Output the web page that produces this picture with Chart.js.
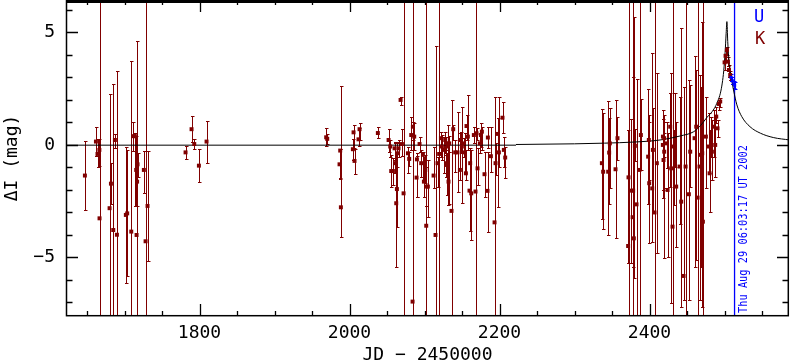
<!DOCTYPE html>
<html><head><meta charset="utf-8">
<script src="https://cdn.jsdelivr.net/npm/chart.js@4.4.0/dist/chart.umd.min.js"></script>
<style>html,body{margin:0;padding:0;background:#fff;}canvas{display:block;}</style>
</head><body>
<canvas id="c" width="790" height="362"></canvas>
<script>
// ---------------- DATA ----------------
const FULL = 20; // error bar running off the panel
const kJD = [1647.2,1661.9,1664.0,1666.5,1666.7,1680.1,1681.9,1685.0,1687.2,1689.9,1701.8,1703.6,1709.0,1711.6,1713.9,1715.6,1716.1,1717.4,1716.8,1725.8,1728.1,1730.7,1781.4,1789.4,1793.0,1799.2,1809.4,
 1968.9,1970.3,1987.6,1986.7,1988.5,2004.5,2005.4,2006.7,2012.0,2013.4,2037.8,
 2052.1,2054.3,2055.6,2057.9,2060.1,2061.0,2062.3,2063.2,2063.6,2065.4,2068.1,2069.9,2072.1,2077.9,2079.6,2082.3,2084.1,2084.5,2086.3,2089.9,2089.4,2093.4,2095.6,2097.9,2099.2,2101.0,2102.3,2102.0,2104.5,2112.1,2114.7,2117.4,2119.5,2121.9,2123.2,2125.4,2127.6,2129.0,2131.2,2133.0,
 2128.9,2129.8,2132.0,2136.0,2138.3,2140.9,2144.0,2147.2,2148.5,2149.8,2152.0,2153.4,2155.2,2156.0,2157.8,2160.0,2160.9,2162.3,2165.8,2168.0,2169.4,2170.7,2173.8,2175.2,2176.5,2180.0,2184.0,2184.5,2188.5,2193.4,2194.7,2197.8,2199.2,2204.0,2205.8,2207.6,
 2336.5,2338.2,2344.9,2346.2,2347.1,2354.7,2357.3,2372.0,2371.5,2375.1,2378.2,2379.1,2377.5,2380.5,2382.7,2386.7,2388.5,2398.2,2399.1,2399.6,2403.6,2404.5,2406.7,2409.8,2417.8,2418.7,2419.6,
 2417.9,2419.6,2423.2,2424.1,2427.6,2429.0,2430.7,2432.1,2434.0,2435.6,2440.1,2442.3,2445.4,2448.1,2452.5,2454.3,2460.1,2462.3,2464.1,2466.7,2468.5,2470.3,2471.2,2475.2,2478.7,2480.1,2481.9,2483.2,2485.4,2487.6,2489.0,2490.7,2492.5,2494.3,2500.1,2501.4,2503.2,2504.5,2505.9,2507.6];
const kMag = [-1.36,0.15,-0.40,-0.22,-3.26,-2.81,-1.72,-3.78,0.22,-3.99,-3.11,-3.04,-3.85,0.39,0.39,-1.11,-4.00,-0.86,-1.63,-1.11,-4.28,-2.71,-0.33,0.70,0.04,-0.92,0.15,
 0.34,0.27,-0.25,-0.86,-2.77,-0.19,0.56,-0.71,0.25,0.70,0.53,
 0.22,-0.07,-1.16,-1.16,-0.15,-0.81,-2.59,-1.96,-0.37,-0.15,2.00,0.04,-2.15,-0.37,-0.62,0.44,-6.96,0.81,0.37,-0.64,-1.45,0.04,-0.81,-0.44,-1.63,-1.11,-3.59,-1.85,-1.85,-1.36,-4.00,-0.81,-0.40,0.30,-0.07,-0.22,0.22,-0.81,-0.07,0.07,
 0.07,-0.89,-1.63,-2.93,0.70,-0.33,-0.33,-1.11,0.22,-0.07,0.07,-0.33,-1.26,0.84,0.37,-2.03,-0.81,-2.15,0.44,-2.07,0.52,-1.04,0.07,0.44,0.59,-1.30,-2.04,0.33,-0.50,-3.44,-0.81,0.49,-0.33,1.21,-0.22,-0.56,
 -0.81,-1.19,-1.19,-0.34,0.07,-1.08,0.30,-1.44,-4.49,-2.03,-2.03,-4.15,-3.21,-0.04,-2.64,-1.11,0.44,-0.52,0.22,-1.70,-1.93,-0.22,-3.00,-0.81,0.00,-0.67,0.30,
 0.37,-0.30,0.07,-2.00,0.81,-1.04,-3.63,-0.07,-0.22,-1.85,-0.96,-2.52,-5.82,-0.96,-2.19,-0.30,0.30,0.81,-2.34,-0.96,-0.44,-0.37,-3.41,0.37,-0.07,-1.26,0.52,-0.30,0.81,0.00,1.26,0.74,1.82,1.93,3.67,3.96,4.22,3.70,3.33,3.11];
const kHi = [0.16,0.79,0.25,0.25,FULL,2.25,-0.81,2.70,0.47,3.29,-0.10,-0.24,3.73,1.01,0.52,0.40,4.61,-0.37,-0.37,-0.25,FULL,-0.25,-0.03,1.27,0.25,-0.19,1.05,
 0.74,0.50,-0.19,-0.19,2.62,0.28,0.87,-0.19,0.74,0.96,0.79,
 0.70,0.22,-0.44,-0.60,0.15,0.07,-0.37,0.07,0.15,0.22,2.15,0.70,FULL,-0.07,-0.30,1.26,FULL,1.04,0.96,-0.37,-0.50,0.37,-0.22,-0.30,-0.52,-0.44,FULL,-0.96,-0.67,-0.07,4.40,-0.52,FULL,0.59,0.44,0.37,0.59,-0.22,0.89,0.40,
 0.37,-0.37,-0.30,2.00,0.89,0.22,1.48,0.52,0.59,1.70,0.30,0.52,-0.22,1.33,2.22,-0.22,-0.15,-0.22,0.81,FULL,0.74,-0.15,0.52,0.96,0.81,-0.30,-0.30,0.81,0.81,2.15,0.07,1.19,2.15,1.89,0.37,-0.07,
 1.58,1.41,1.96,1.19,1.63,2.00,1.26,FULL,0.67,1.14,FULL,5.70,3.04,0.70,2.92,FULL,2.03,2.48,1.33,1.00,4.07,1.63,FULL,3.19,1.14,0.52,1.04,
 1.56,1.33,1.04,0.52,2.30,3.19,FULL,0.67,2.30,1.00,2.15,5.19,2.59,FULL,2.89,2.67,3.93,3.33,FULL,3.11,2.59,5.48,FULL,2.15,1.41,0.67,1.26,1.11,1.56,1.33,1.70,1.11,2.00,2.07,4.00,4.22,4.37,3.90,3.56,3.30];
const kLo = [-2.90,-0.49,-0.96,-0.95,-FULL,-FULL,-2.64,-FULL,-0.15,-FULL,-6.12,-5.84,-FULL,-0.25,-2.71,-2.70,-FULL,-1.41,-2.71,-2.15,-FULL,-5.17,-0.64,0.12,-0.19,-1.66,-0.81,
 -0.04,0.05,-1.48,-1.52,-4.10,-0.67,-0.15,-1.30,-0.04,0.22,0.30,
 -0.30,-0.52,-1.85,-1.80,-0.67,-1.26,-5.41,-3.63,-0.96,-0.52,1.78,-0.49,-FULL,-1.26,-0.93,-0.22,-FULL,0.22,-0.22,-2.30,-2.30,-0.30,-1.41,-1.56,-2.30,-1.70,-FULL,-2.70,-3.19,-1.93,-FULL,-1.85,-FULL,-0.52,-0.67,-1.26,-0.37,-1.41,-2.67,-0.30,
 -0.44,-2.22,-2.63,-FULL,0.22,-1.19,-2.07,-1.56,-0.37,-2.59,-0.52,-1.26,-1.56,0.22,-0.22,-3.81,-2.07,-4.22,0.07,-FULL,0.22,-1.78,-0.37,-0.07,-0.22,-2.30,-3.88,-0.15,-1.19,-FULL,-1.33,-2.74,-0.96,0.52,-0.96,-1.48,
 -3.30,-3.74,-3.99,-2.62,-1.93,-4.15,-0.67,-FULL,-5.26,-5.26,-FULL,-5.93,-5.41,-0.70,-FULL,-FULL,-1.11,-2.62,-1.56,-4.37,-4.30,-3.04,-FULL,-4.81,-2.00,-1.93,-0.52,
 -2.37,-5.04,-1.04,-4.96,-1.85,-7.04,-FULL,-2.67,-1.00,-4.52,-3.50,-7.18,-6.89,-FULL,-6.89,-1.85,-5.41,-5.11,-FULL,-6.89,-5.41,-7.18,-FULL,-1.93,-1.26,-2.96,-0.52,-1.56,-0.52,-1.41,0.96,0.37,1.56,1.70,3.33,3.70,4.00,3.50,3.04,2.90];

const uJD  = [2508.8, 2510.5, 2512.5, 2513.5];
const uMag = [3.00, 2.85, 2.72, 2.65];
const uHi  = [3.15, 3.00, 2.85, 2.78];
const uLo  = [2.85, 2.70, 2.55, 2.50];

const baseJD  = [1622, 2222];
const baseMag = [-0.01, -0.01];
const modelJD  = [2222,2300,2340,2380,2414,2441,2459,2468,2476,2486,2491,2494.5,2497,2499,2500.8,2502.2,2503.2,2504.3,2505.6,2507.6,2510,2512,2516.5,2523,2534,2548,2565,2587];
const modelMag = [0.02,0.05,0.08,0.13,0.22,0.40,0.59,0.86,1.20,1.60,1.95,2.30,2.75,3.30,4.10,4.96,5.48,4.60,3.90,3.33,2.80,2.44,1.78,1.26,0.81,0.52,0.33,0.22];

const eventJD = [2513.4];
const eventLabel = ['Thu Aug 29 06:03:17 UT 2002'];
const seriesNames = ['U', 'K'];
const xTickLabels = [1800, 2000, 2200, 2400];
const yTickLabels = [-5, 0, 5];
const xTitle = 'JD \u2212 2450000';
const yTitle = '\u0394I (mag)';

// ---------------- STYLE ----------------
const RED = '#800000', BLUE = '#0000ff';
const FONT = 'DejaVu Sans Mono';
Chart.defaults.font.family = FONT;

function pts(xs, ys){ return xs.map((v,i)=>({x:v, y:ys[i]})); }

const overlay = {
  id: 'overlay',
  beforeDatasetsDraw(chart){
    const {ctx, chartArea:a, scales:{x, y}} = chart;
    ctx.save();
    ctx.beginPath(); ctx.rect(a.left, a.top, a.right-a.left, a.bottom-a.top); ctx.clip();
    const bars = (xs, his, los, col) => {
      ctx.strokeStyle = col; ctx.lineWidth = 1;
      ctx.beginPath();
      xs.forEach((v,i)=>{
        const px = Math.round(x.getPixelForValue(v)) + 0.5;
        const y1 = Math.round(y.getPixelForValue(his[i])) + 0.5;
        const y2 = Math.round(y.getPixelForValue(los[i])) + 0.5;
        ctx.moveTo(px, y1); ctx.lineTo(px, y2);
        ctx.moveTo(px-1.5, y1); ctx.lineTo(px+2, y1);
        ctx.moveTo(px-1.5, y2); ctx.lineTo(px+2, y2);
      });
      ctx.stroke();
    };
    bars(kJD, kHi, kLo, RED);
    bars(uJD, uHi, uLo, BLUE);
    // event line
    ctx.strokeStyle = BLUE; ctx.lineWidth = 1.3;
    eventJD.forEach(v=>{
      const px = x.getPixelForValue(v);
      ctx.beginPath(); ctx.moveTo(px, a.top); ctx.lineTo(px, a.bottom); ctx.stroke();
    });
    ctx.restore();
  },
  afterDraw(chart){
    const {ctx, chartArea:a, scales:{x, y}} = chart;
    ctx.save();
    ctx.strokeStyle = '#000'; ctx.fillStyle = '#000';
    // frame
    ctx.lineWidth = 1.5;
    ctx.strokeRect(a.left+0.5, a.top+0.5, a.right-a.left-1.2, a.bottom-a.top-0.8);
    ctx.fillRect(a.left, a.top, a.right-a.left, 3);
    // ticks
    ctx.lineWidth = 1.3;
    ctx.beginPath();
    for (let v = 1650; v <= 2586; v += 50){
      const px = Math.round(x.getPixelForValue(v)) + 0.5;
      const len = xTickLabels.includes(v) ? 12 : 5;
      ctx.moveTo(px, a.bottom); ctx.lineTo(px, a.bottom-len);
      ctx.moveTo(px, a.top); ctx.lineTo(px, a.top+len);
    }
    for (let v = -7; v <= 6; v += 1){
      const py = Math.round(y.getPixelForValue(v)) + 0.5;
      const len = yTickLabels.includes(v) ? 12 : 6.5;
      ctx.moveTo(a.left, py); ctx.lineTo(a.left+len, py);
      ctx.moveTo(a.right, py); ctx.lineTo(a.right-len, py);
    }
    ctx.stroke();
    // axis titles
    ctx.font = '18px ' + FONT;
    ctx.textAlign = 'center'; ctx.textBaseline = 'middle';
    ctx.fillText(xTitle, (a.left+a.right)/2, a.bottom+39);
    ctx.save();
    ctx.translate(12, (a.top+a.bottom)/2);
    ctx.rotate(-Math.PI/2);
    ctx.fillText(yTitle, 0, 0);
    ctx.restore();
    // series key
    ctx.font = '17px ' + FONT;
    ctx.fillStyle = BLUE; ctx.fillText(seriesNames[0], 759, 18);
    ctx.fillStyle = RED;  ctx.fillText(seriesNames[1], 760, 40);
    // event label
    ctx.fillStyle = BLUE;
    ctx.font = '12.3px ' + FONT;
    ctx.textAlign = 'left'; ctx.textBaseline = 'alphabetic';
    eventJD.forEach((v,i)=>{
      const px = x.getPixelForValue(v);
      ctx.save();
      ctx.translate(px + 12, a.bottom - 3);
      ctx.rotate(-Math.PI/2);
      ctx.scale(0.84, 1);
      ctx.fillText(eventLabel[i], 0, 0);
      ctx.restore();
    });
    ctx.restore();
  }
};

new Chart(document.getElementById('c'), {
  type: 'scatter',
  data: {
    datasets: [
      {label:'baseline', data: pts(baseJD, baseMag), showLine:true, borderColor:'#000', borderWidth:1, pointRadius:0, order:3},
      {label:'model', data: pts(modelJD, modelMag), showLine:true, borderColor:'#000', borderWidth:1, pointRadius:0, cubicInterpolationMode:'monotone', order:2},
      {label:seriesNames[1], data: pts(kJD, kMag), pointStyle:'rect', pointRadius:2.8, backgroundColor:RED, borderColor:RED, borderWidth:0, order:1},
      {label:seriesNames[0], data: pts(uJD, uMag), pointStyle:'rect', pointRadius:2.2, backgroundColor:BLUE, borderColor:BLUE, borderWidth:0, order:0}
    ]
  },
  options: {
    responsive: false,
    animation: false,
    events: [],
    layout: {padding: {left:0, right:1, top:0, bottom:0}, autoPadding:false},
    plugins: {legend:{display:false}, tooltip:{enabled:false}},
    scales: {
      x: {
        type:'linear', min:1622, max:2586,
        afterFit(s){ s.height = 46; s.paddingLeft = 0; s.paddingRight = 0; },
        grid:{display:false, drawTicks:false}, border:{display:false},
        ticks:{stepSize:50, autoSkip:false, maxRotation:0, padding:7, color:'#000', font:{size:18},
          callback:(v)=> xTickLabels.includes(v) ? String(v) : ''}
      },
      y: {
        type:'linear', min:-7.6, max:6.44,
        afterFit(s){ s.width = 66; s.paddingTop = 0; s.paddingBottom = 0; },
        grid:{display:false, drawTicks:false}, border:{display:false},
        ticks:{stepSize:1, autoSkip:false, padding:11, color:'#000', font:{size:18},
          callback:(v)=> yTickLabels.includes(v) ? (v<0 ? '\u2212'+Math.abs(v) : String(v)) : ''}
      }
    }
  },
  plugins: [overlay]
});
</script>
</body></html>
